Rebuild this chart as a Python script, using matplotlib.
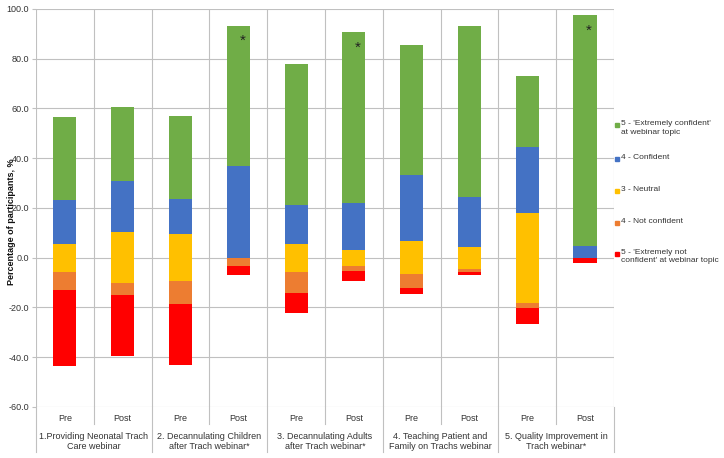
import matplotlib.pyplot as plt
import numpy as np
from matplotlib.patches import Rectangle

plt.rcParams['font.family'] = ['Liberation Sans', 'DejaVu Sans']

# percentage of participants per response, one entry per bar (Pre/Post x 5 webinars)
phases = ['Pre', 'Post'] * 5
webinars = ['1.Providing Neonatal Trach\nCare webinar',
            '2. Decannulating Children\nafter Trach webinar*',
            '3. Decannulating Adults\nafter Trach webinar*',
            '4. Teaching Patient and\nFamily on Trachs webinar',
            '5. Quality Improvement in\nTrach webinar*']
extremely_confident = [33.3, 29.9, 33.3, 56.4, 57.0, 68.5, 52.1, 68.5, 28.5, 92.5]
confident = [17.6, 20.6, 14.2, 36.7, 15.4, 18.8, 26.6, 20.2, 26.6, 4.9]
neutral = [11.2, 20.5, 18.8, 0.0, 11.3, 6.5, 13.3, 8.8, 36.1, 0.0]
not_confident = [7.5, 4.6, 9.2, 3.5, 8.6, 2.1, 5.6, 1.2, 2.2, 0.0]
extremely_not = [30.5, 24.5, 24.4, 3.5, 7.8, 4.0, 2.5, 1.4, 6.5, 2.3]
significant = [False, False, False, True, False, True, False, False, False, True]

labels = ["5 - 'Extremely confident'\nat webinar topic", '4 - Confident', '3 - Neutral',
          '4 - Not confident', "5 - 'Extremely not\nconfident' at webinar topic"]
colors = ['#70AD47', '#4472C4', '#FFC000', '#ED7D31', '#FF0000']

x = np.arange(len(phases))
half = np.array(neutral) / 2
conf = np.array(confident)
econf = np.array(extremely_confident)
nconf = np.array(not_confident)
enot = np.array(extremely_not)

fig = plt.figure(figsize=(7.24, 4.58), dpi=100)
ax = fig.add_axes([0.0497, 0.1114, 0.7983, 0.869])

w = 0.4
# positive side
ax.bar(x, half, w, bottom=0, color=colors[2], zorder=2)
ax.bar(x, conf, w, bottom=half, color=colors[1], zorder=2)
ax.bar(x, econf, w, bottom=half + conf, color=colors[0], zorder=2)
# negative side
ax.bar(x, -half, w, bottom=0, color=colors[2], zorder=2)
ax.bar(x, -nconf, w, bottom=-half, color=colors[3], zorder=2)
ax.bar(x, -enot, w, bottom=-half - nconf, color=colors[4], zorder=2)

top = half + conf + econf
for i in x:
    if significant[i]:
        ax.text(i + 0.07, top[i] - 6, '*', ha='center', va='center', fontsize=11, color='#222222', zorder=3)

ax.set_xlim(-0.5, 9.5)
ax.set_ylim(-60, 100)
ax.set_yticks(np.arange(-60, 101, 20))
ax.set_yticklabels(['%.1f' % v for v in np.arange(-60, 101, 20)], fontsize=6.5, color='#333333')
ax.set_xticks(x)
ax.set_xticklabels(phases, fontsize=6.5, color='#333333')
ax.set_xticks(np.arange(-0.5, 10, 1), minor=True)
ax.tick_params(axis='x', which='both', length=0, pad=5)
ax.tick_params(axis='y', length=3, color='#c0c0c0', width=0.8, pad=2)
ax.grid(axis='y', which='major', color='#c0c0c0', lw=0.8, zorder=0)
ax.grid(axis='x', which='minor', color='#c0c0c0', lw=0.8, zorder=0)
ax.grid(axis='x', which='major', visible=False)
for s in ax.spines.values():
    s.set_visible(False)

tr = ax.get_xaxis_transform()
for g, name in enumerate(webinars):
    ax.text(2 * g + 0.5, -0.086, name, transform=tr, ha='center', va='center',
            fontsize=6.5, color='#333333', linespacing=1.2)
for b in np.arange(-0.5, 10, 2):
    ax.plot([b, b], [0, -0.113], transform=tr, color='#c0c0c0', lw=0.8, clip_on=False)
for b in np.arange(0.5, 10, 2):
    ax.plot([b, b], [0, -0.043], transform=tr, color='#c0c0c0', lw=0.8, clip_on=False)

fig.text(12 / 724, 1 - 222 / 458, 'Percentage of participants, %', rotation=90,
         ha='center', va='center', fontsize=6.5, fontweight='bold', color='#111111')

# legend drawn at the right
ly = [125, 159, 191, 223, 254]
for yy, lab, c in zip(ly, labels, colors):
    fy = 1 - yy / 458
    fig.patches.append(Rectangle((615 / 724, fy - 2 / 458), 4 / 724, 4 / 458,
                                 transform=fig.transFigure, color=c))
    fig.text(621 / 724, fy + 5 / 458, lab, fontsize=6, color='#333333', va='top', linespacing=1.3)

fig.savefig('out.png', dpi=100)
